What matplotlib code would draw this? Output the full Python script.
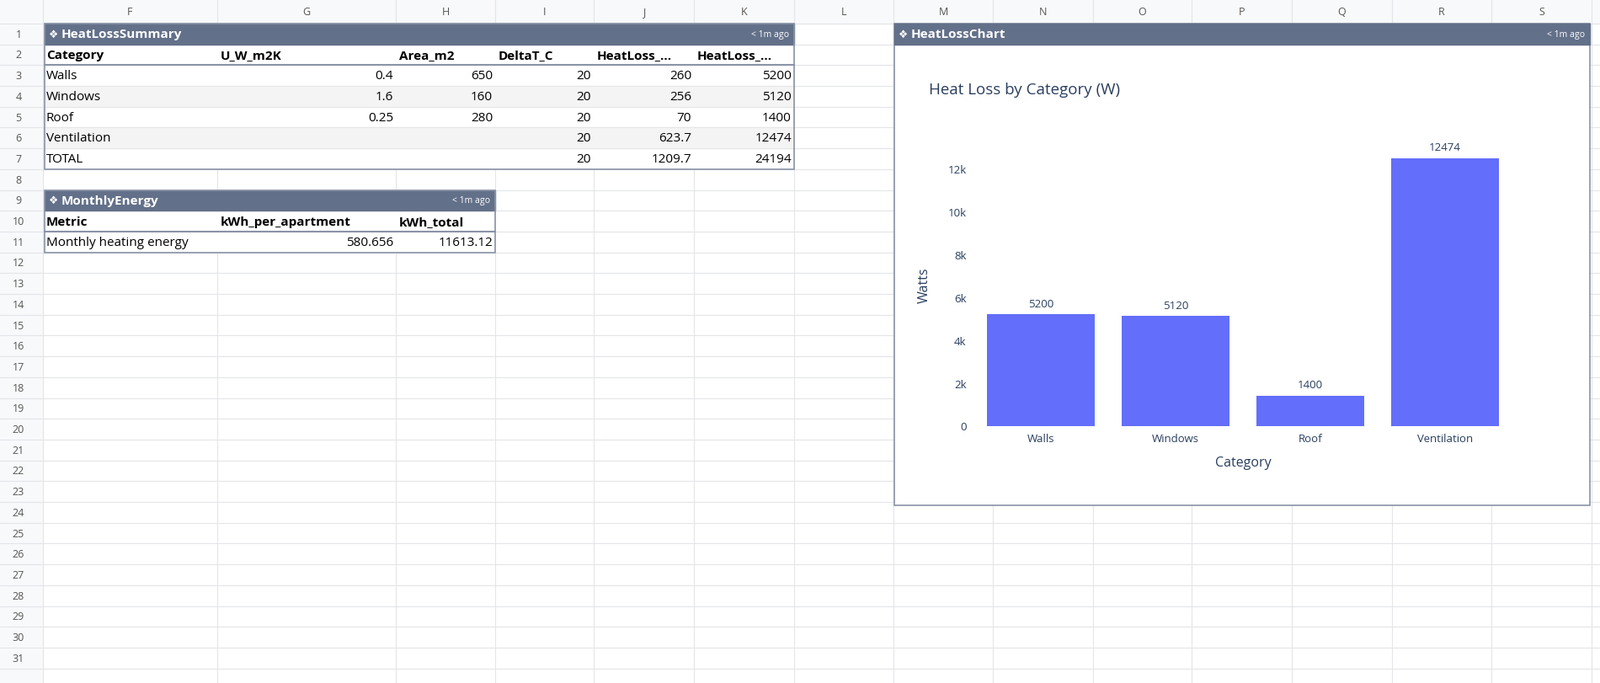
import matplotlib.pyplot as plt
from matplotlib.patches import Rectangle
from matplotlib.ticker import FuncFormatter

# table data
categories = ["Walls", "Windows", "Roof", "Ventilation", "TOTAL"]
u_values = ["0.4", "1.6", "0.25", "", ""]
areas = ["650", "160", "280", "", ""]
delta_t = ["20", "20", "20", "20", "20"]
heatloss_wk = ["260", "256", "70", "623.7", "1209.7"]
heatloss_w = ["5200", "5120", "1400", "12474", "24194"]
summary_headers = ["Category", "U_W_m2K", "Area_m2", "DeltaT_C", "HeatLoss_...", "HeatLoss_..."]

energy_headers = ["Metric", "kWh_per_apartment", "kWh_total"]
energy_row = ["Monthly heating energy", "580.656", "11613.12"]

# chart data
chart_cats = ["Walls", "Windows", "Roof", "Ventilation"]
chart_vals = [5200, 5120, 1400, 12474]

col_names = list("FGHIJKLMNOPQRS")
col_edges = [51, 258, 470, 588, 705, 824, 943, 1061, 1179, 1298, 1415, 1534, 1653, 1771, 1890]
ROW_H = 24.7
ROW0 = 28.9
HEAD = "#637089"
GRID = "#e3e5e8"
FONT = "Open Sans"

fig = plt.figure(figsize=(19, 8.12), dpi=100)
ax = fig.add_axes([0, 0, 1, 1])
ax.set_xlim(0, 1900)
ax.set_ylim(812, 0)
ax.axis("off")


def row_top(r):
    return ROW0 + (r - 1) * ROW_H


# grid
ax.add_patch(Rectangle((0, 0), 1900, ROW0, color="#f8f9fa", zorder=0))
ax.add_patch(Rectangle((0, 0), col_edges[0], 812, color="#f8f9fa", zorder=0))
for x in col_edges:
    ax.plot([x, x], [0, 812], color=GRID, lw=0.8, zorder=1)
for r in range(1, 33):
    y = row_top(r)
    ax.plot([0, 1900], [y, y], color=GRID, lw=0.8, zorder=1)
    if r <= 31:
        ax.text(22, y + ROW_H / 2, str(r), ha="center", va="center", fontsize=9,
                color="#555", family=FONT)
for i, name in enumerate(col_names):
    ax.text((col_edges[i] + col_edges[i + 1]) / 2, ROW0 / 2, name, ha="center",
            va="center", fontsize=9, color="#555", family=FONT)


def header_bar(x0, x1, y, title):
    ax.add_patch(Rectangle((x0, y), x1 - x0, ROW_H, color=HEAD, zorder=6))
    ax.text(x0 + 5, y + ROW_H / 2, "\u2756", ha="left", va="center",
            fontsize=9, color="white", family="DejaVu Sans", zorder=7)
    ax.text(x0 + 20, y + ROW_H / 2, title, ha="left", va="center",
            fontsize=11, color="white", weight="bold", family=FONT, zorder=7)
    ax.text(x1 - 6, y + ROW_H / 2, "< 1m ago", ha="right", va="center",
            fontsize=7.5, color="white", family=FONT, zorder=7)


def table(first_row, ncols, title, headers, rows, numeric_cols):
    x0, x1 = col_edges[0] + 2, col_edges[ncols]
    y_top = row_top(first_row)
    y_bot = row_top(first_row + 2 + len(rows))
    ax.add_patch(Rectangle((x0, row_top(first_row + 1)), x1 - x0,
                           y_bot - row_top(first_row + 1), facecolor="white",
                           edgecolor="none", zorder=2))
    header_bar(x0, x1, y_top, title)
    for c, h in enumerate(headers):
        ax.text(col_edges[c] + 4, row_top(first_row + 1) + ROW_H / 2, h,
                ha="left", va="center", fontsize=11, weight="bold",
                family=FONT, zorder=4)
    yh = row_top(first_row + 2)
    ax.plot([x0, x1], [yh, yh], color="#8a93a6", lw=1.5, zorder=4)
    for i, row in enumerate(rows):
        y = row_top(first_row + 2 + i)
        if i % 2 == 1:
            ax.add_patch(Rectangle((x0, y), x1 - x0, ROW_H, color="#f4f4f4", zorder=2))
        ax.plot([x0, x1], [y, y], color="#e6e6e6", lw=0.8, zorder=3)
        for c, v in enumerate(row):
            if c in numeric_cols:
                ax.text(col_edges[c + 1] - 3, y + ROW_H / 2, v, ha="right",
                        va="center", fontsize=11, family=FONT, zorder=4)
            else:
                ax.text(col_edges[c] + 4, y + ROW_H / 2, v, ha="left",
                        va="center", fontsize=11, family=FONT, zorder=4)
    ax.add_patch(Rectangle((x0, y_top), x1 - x0, y_bot - y_top, fill=False,
                           edgecolor="#8a93a6", lw=1.2, zorder=8))


summary_rows = list(zip(categories, u_values, areas, delta_t, heatloss_wk, heatloss_w))
table(1, 6, "HeatLossSummary", summary_headers, summary_rows, {1, 2, 3, 4, 5})
table(9, 3, "MonthlyEnergy", energy_headers, [energy_row], {1, 2})

# chart panel
px0, px1 = 1062, 1888
py0, py1 = row_top(1), 601
ax.add_patch(Rectangle((px0, py0), px1 - px0, py1 - py0, facecolor="white",
                       edgecolor="#8a93a6", lw=1.2, zorder=5))
header_bar(px0, px1, py0, "HeatLossChart")
ax.text(1103, 107, "Heat Loss by Category (W)", ha="left", va="center",
        fontsize=13.5, color="#2a3f5f", family=FONT, zorder=7)

# plot area: x 1156..1796, y 172..506 px
ymax = 13131
cax = fig.add_axes([1156 / 1900, 1 - 506.5 / 812, 640 / 1900, 334.5 / 812])
cax.set_zorder(10)
cax.patch.set_alpha(0)
cax.bar(range(len(chart_cats)), chart_vals, width=0.8, color="#636efa")
for i, v in enumerate(chart_vals):
    cax.text(i, v + 250, str(v), ha="center", va="bottom", fontsize=9.5,
             color="#2a3f5f", family=FONT)
cax.set_xlim(-0.5, 3.5)
cax.set_ylim(0, ymax)
cax.set_yticks([0, 2000, 4000, 6000, 8000, 10000, 12000])
cax.yaxis.set_major_formatter(FuncFormatter(lambda v, p: "0" if v == 0 else f"{int(v / 1000)}k"))
cax.set_xticks(range(len(chart_cats)))
cax.set_xticklabels(chart_cats)
for s in cax.spines.values():
    s.set_visible(False)
cax.tick_params(length=0, labelsize=9.5, colors="#2a3f5f", pad=6)
for lbl in cax.get_xticklabels() + cax.get_yticklabels():
    lbl.set_family(FONT)
cax.set_xlabel("Category", fontsize=11.5, color="#2a3f5f", family=FONT, labelpad=10)
cax.set_ylabel("Watts", fontsize=11.5, color="#2a3f5f", family=FONT, labelpad=14)

fig.savefig("out.png", dpi=100)
